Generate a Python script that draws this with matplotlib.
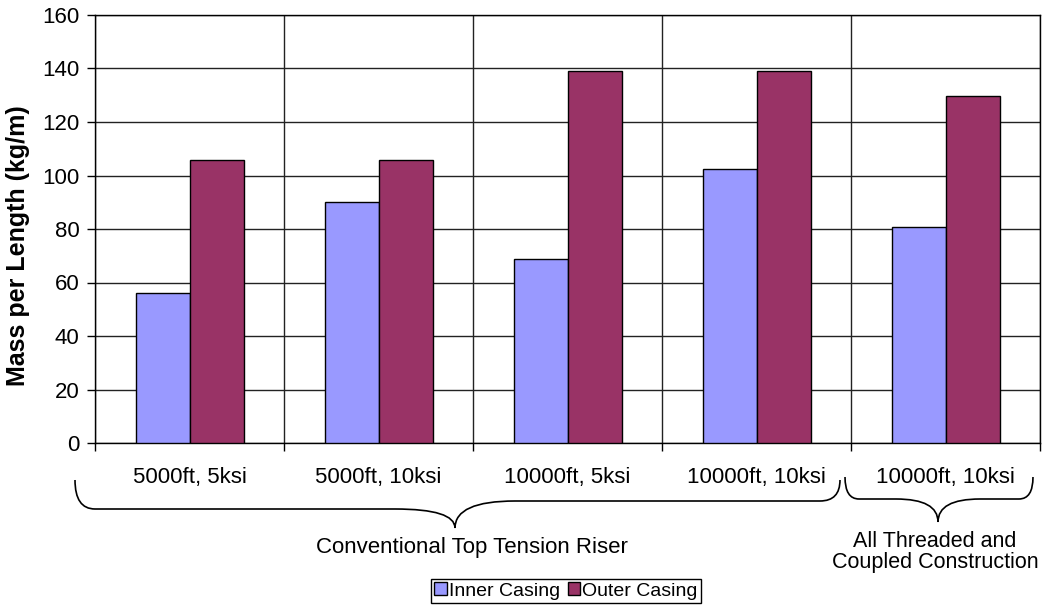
import numpy as np
import matplotlib.pyplot as plt
from matplotlib.path import Path
from matplotlib.patches import PathPatch

plt.rcParams["font.family"] = ["Liberation Sans", "DejaVu Sans"]

categories = ["5000ft, 5ksi", "5000ft, 10ksi", "10000ft, 5ksi", "10000ft, 10ksi", "10000ft, 10ksi"]
inner_casing = [56.1, 90.1, 68.8, 102.4, 80.7]
outer_casing = [105.8, 105.8, 139.2, 139.2, 129.7]
y_ticks = [0, 20, 40, 60, 80, 100, 120, 140, 160]
group_labels = ["Conventional Top Tension Riser", "All Threaded and\nCoupled Construction"]

W, H = 1047, 607
FS = 16
fig = plt.figure(figsize=(W / 100, H / 100), dpi=100)
ax = fig.add_axes([95 / W, 1 - 443 / H, 945 / W, 428 / H])

x = np.arange(len(categories))
bw = 1 / 3.5
ax.bar(x - bw / 2, inner_casing, bw, color="#9999FF", edgecolor="black", lw=1, label="Inner Casing", zorder=3)
ax.bar(x + bw / 2, outer_casing, bw, color="#993366", edgecolor="black", lw=1, label="Outer Casing", zorder=3)

ax.set_xlim(-0.5, len(categories) - 0.5)
ax.set_ylim(0, 160)
ax.set_yticks(y_ticks)
ax.set_xticks(x)
ax.set_xticklabels(categories)
ax.set_xticks(np.arange(len(categories) + 1) - 0.5, minor=True)
ax.tick_params(axis="x", which="major", length=0, pad=17, labelsize=FS)
ax.tick_params(axis="x", which="minor", length=6, width=1, direction="out")
ax.tick_params(axis="y", length=6, width=1, labelsize=FS, pad=5)
ax.grid(True, axis="y", color="#222222", lw=1, zorder=0)
ax.grid(True, axis="x", which="minor", color="#222222", lw=1, zorder=0)
for s in ax.spines.values():
    s.set_linewidth(1)
ax.set_ylabel("Mass per Length (kg/m)", fontsize=18, fontweight="bold")
ax.yaxis.label.set_va("center")
ax.yaxis.set_label_coords((18 - 95) / 945, (443 - 246) / 428)


def brace(x0, x1, xt, yt, yl_left, yl_right, ytip, r):
    # curly brace in pixel coordinates, opening upwards
    pts = [(x0, yt), (x0, yl_left), (x0 + r, yl_left),
           (xt - 3 * r, yl_left), (xt, yl_left), (xt, ytip),
           (xt, yl_right), (xt + 3 * r, yl_right),
           (x1 - r, yl_right), (x1, yl_right), (x1, yt)]
    codes = [Path.MOVETO, Path.CURVE3, Path.CURVE3,
             Path.LINETO, Path.CURVE3, Path.CURVE3,
             Path.CURVE3, Path.CURVE3,
             Path.LINETO, Path.CURVE3, Path.CURVE3]
    pts = [(px / W, 1 - py / H) for px, py in pts]
    fig.add_artist(PathPatch(Path(pts, codes), transform=fig.transFigure,
                             fill=False, lw=1.2, edgecolor="black"))


brace(75, 840, 455, 480, 509, 501, 528, 20)
brace(845, 1033, 938, 477, 499, 499, 522, 14)

fig.text(472 / W, 1 - 548 / H, group_labels[0], ha="center", va="center", fontsize=FS)
fig.text(935 / W, 1 - 552 / H, group_labels[1], ha="center", va="center", fontsize=15.5,
         linespacing=1.0)

fig.legend(loc="center", bbox_to_anchor=(566 / W, 1 - 591 / H), ncol=2, fontsize=14,
           frameon=True, fancybox=False, edgecolor="black", framealpha=1,
           handlelength=0.62, handleheight=0.62, handletextpad=0.12, columnspacing=0.4,
           borderpad=0.2, borderaxespad=0)

fig.savefig("out.png", dpi=100)
